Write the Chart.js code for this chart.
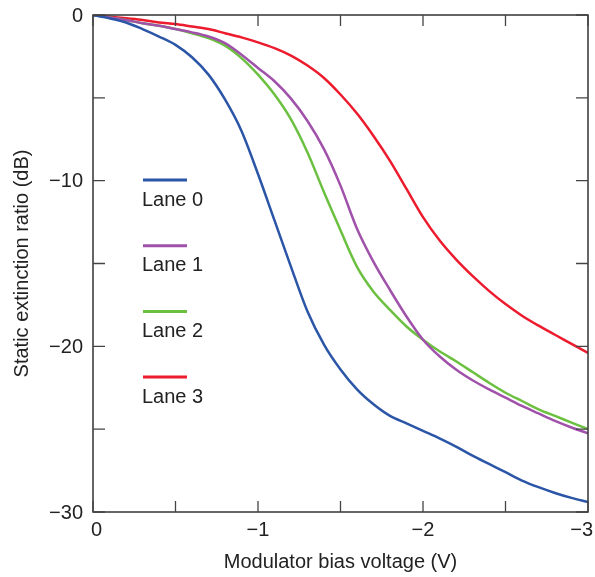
<!DOCTYPE html>
<html>
<head>
<meta charset="utf-8">
<script src="https://cdn.jsdelivr.net/npm/chart.js@4/dist/chart.umd.min.js"></script>
<style>
  html, body { margin: 0; padding: 0; background: #fff; }
  #wrap { width: 595px; height: 577px; }
</style>
</head>
<body>
<div id="wrap"><canvas id="extChart" width="595" height="577"></canvas></div>
<script>
// bias voltage (V)
var voltage = [0, -0.1, -0.2, -0.3, -0.4, -0.5, -0.6, -0.7, -0.8, -0.9, -1.0,
               -1.1, -1.2, -1.3, -1.4, -1.5, -1.6, -1.7, -1.8, -1.9, -2.0,
               -2.1, -2.2, -2.3, -2.4, -2.5, -2.6, -2.7, -2.8, -2.9, -3.0];

// static extinction ratio (dB) per lane
var lane0 = [0, -0.2, -0.45, -0.85, -1.3, -1.8, -2.55, -3.6, -5.1, -7.0, -9.6,
             -12.4, -15.2, -17.9, -19.9, -21.4, -22.6, -23.5, -24.2, -24.65, -25.1,
             -25.55, -26.05, -26.6, -27.1, -27.6, -28.1, -28.5, -28.85, -29.15, -29.4];
var lane1 = [0, -0.15, -0.3, -0.5, -0.65, -0.85, -1.05, -1.3, -1.7, -2.4, -3.2,
             -4.0, -5.05, -6.4, -8.1, -10.3, -12.9, -14.9, -16.6, -18.2, -19.6,
             -20.6, -21.4, -22.05, -22.6, -23.1, -23.6, -24.05, -24.5, -24.9, -25.25];
var lane2 = [0, -0.15, -0.3, -0.5, -0.65, -0.85, -1.1, -1.4, -1.85, -2.6, -3.6,
             -4.8, -6.3, -8.3, -10.7, -13.0, -15.2, -16.7, -17.8, -18.8, -19.6,
             -20.3, -20.9, -21.55, -22.2, -22.8, -23.3, -23.8, -24.2, -24.6, -25.0];
var lane3 = [0, -0.1, -0.2, -0.3, -0.45, -0.55, -0.7, -0.85, -1.1, -1.35, -1.65,
             -2.0, -2.45, -3.05, -3.8, -4.8, -5.95, -7.3, -8.8, -10.5, -12.2,
             -13.6, -14.75, -15.75, -16.65, -17.45, -18.15, -18.75, -19.3, -19.85, -20.4];

var laneNames = ['Lane 0', 'Lane 1', 'Lane 2', 'Lane 3'];
var laneColors = ['#2b55a6', '#a052aa', '#6cc040', '#ec1b2d'];
var laneValues = [lane0, lane1, lane2, lane3];

var MINUS = '\u2212';
var FONT = '"Liberation Sans", Arial, sans-serif';
function fmt(v) {
    if (v === 0) return '0';
    return v < 0 ? MINUS + Math.abs(v) : String(v);
}

var datasets = laneValues.map(function(vals, i) {
    return {
        label: laneNames[i],
        data: voltage.map(function(v, k) { return {x: v, y: vals[k]}; }),
        borderColor: laneColors[i],
        backgroundColor: laneColors[i],
        borderWidth: 2.5,
        pointRadius: 0,
        tension: 0.3,
        fill: false
    };
});

// box round the plot, inward ticks on all four sides, tick labels
var frameTicks = {
    id: 'frameTicks',
    afterDraw: function(chart) {
        var ctx = chart.ctx, a = chart.chartArea;
        var xs = chart.scales.x, ys = chart.scales.y;
        ctx.save();
        ctx.strokeStyle = '#333';
        ctx.lineWidth = 1.5;
        ctx.strokeRect(a.left, a.top, a.right - a.left, a.bottom - a.top);
        ctx.lineWidth = 1.3;
        ctx.strokeStyle = '#444';
        ctx.beginPath();
        xs.ticks.forEach(function(t) {
            var px = xs.getPixelForValue(t.value);
            ctx.moveTo(px, a.bottom); ctx.lineTo(px, a.bottom - 11);
            ctx.moveTo(px, a.top); ctx.lineTo(px, a.top + 11);
        });
        ys.ticks.forEach(function(t) {
            var py = ys.getPixelForValue(t.value);
            ctx.moveTo(a.left, py); ctx.lineTo(a.left + 12, py);
            ctx.moveTo(a.right, py); ctx.lineTo(a.right - 12, py);
        });
        ctx.stroke();

        ctx.fillStyle = '#222';
        ctx.font = '20px ' + FONT;
        ctx.textBaseline = 'middle';
        ctx.textAlign = 'center';
        xs.ticks.forEach(function(t) {
            if (t.value % 1 !== 0) return;
            var s = fmt(t.value);
            var w = ctx.measureText(s).width;
            var px = xs.getPixelForValue(t.value);
            px = Math.max(px, a.left - 2 + w / 2);
            px = Math.min(px, a.right + 5 - w / 2);
            ctx.fillText(s, px, a.bottom + 18);
        });
        ctx.textAlign = 'right';
        ys.ticks.forEach(function(t) {
            if (t.value % 10 !== 0) return;
            ctx.fillText(fmt(t.value), a.left - 10, ys.getPixelForValue(t.value) + 1);
        });
        ctx.restore();
    }
};

// legend: short line with the name under it
var stackedLegend = {
    id: 'stackedLegend',
    afterDatasetsDraw: function(chart) {
        var ctx = chart.ctx, a = chart.chartArea;
        ctx.save();
        ctx.font = '20px ' + FONT;
        ctx.textAlign = 'left';
        ctx.textBaseline = 'middle';
        chart.data.datasets.forEach(function(ds, i) {
            var y = a.top + 165 + i * 65.7;
            ctx.strokeStyle = ds.borderColor;
            ctx.lineWidth = 3;
            ctx.beginPath();
            ctx.moveTo(a.left + 50, y);
            ctx.lineTo(a.left + 94, y);
            ctx.stroke();
            ctx.fillStyle = '#222';
            ctx.fillText(ds.label, a.left + 49, y + 20);
        });
        ctx.restore();
    }
};

Chart.defaults.font.family = FONT;
Chart.defaults.color = '#222';

var extChart = new Chart(document.getElementById('extChart'), {
    type: 'line',
    data: { datasets: datasets },
    options: {
        responsive: false,
        animation: false,
        layout: { padding: { top: 15, right: 7, left: 0, bottom: 3 } },
        plugins: {
            legend: { display: false },
            tooltip: { enabled: false }
        },
        scales: {
            x: {
                type: 'linear',
                min: -3,
                max: 0,
                reverse: true,
                grid: { display: false },
                border: { display: false },
                afterFit: function(s) { s.height = 62; },
                ticks: { stepSize: 0.5, autoSkip: false, display: false },
                title: {
                    display: true,
                    text: 'Modulator bias voltage (V)',
                    font: { size: 20 },
                    padding: { top: 0, bottom: 0 }
                }
            },
            y: {
                min: -30,
                max: 0,
                grid: { display: false },
                border: { display: false },
                afterFit: function(s) { s.width = 93; },
                ticks: { stepSize: 5, autoSkip: false, display: false },
                title: {
                    display: true,
                    text: 'Static extinction ratio (dB)',
                    font: { size: 20 },
                    padding: { top: 10, bottom: 0 }
                }
            }
        }
    },
    plugins: [stackedLegend, frameTicks]
});
</script>
</body>
</html>
